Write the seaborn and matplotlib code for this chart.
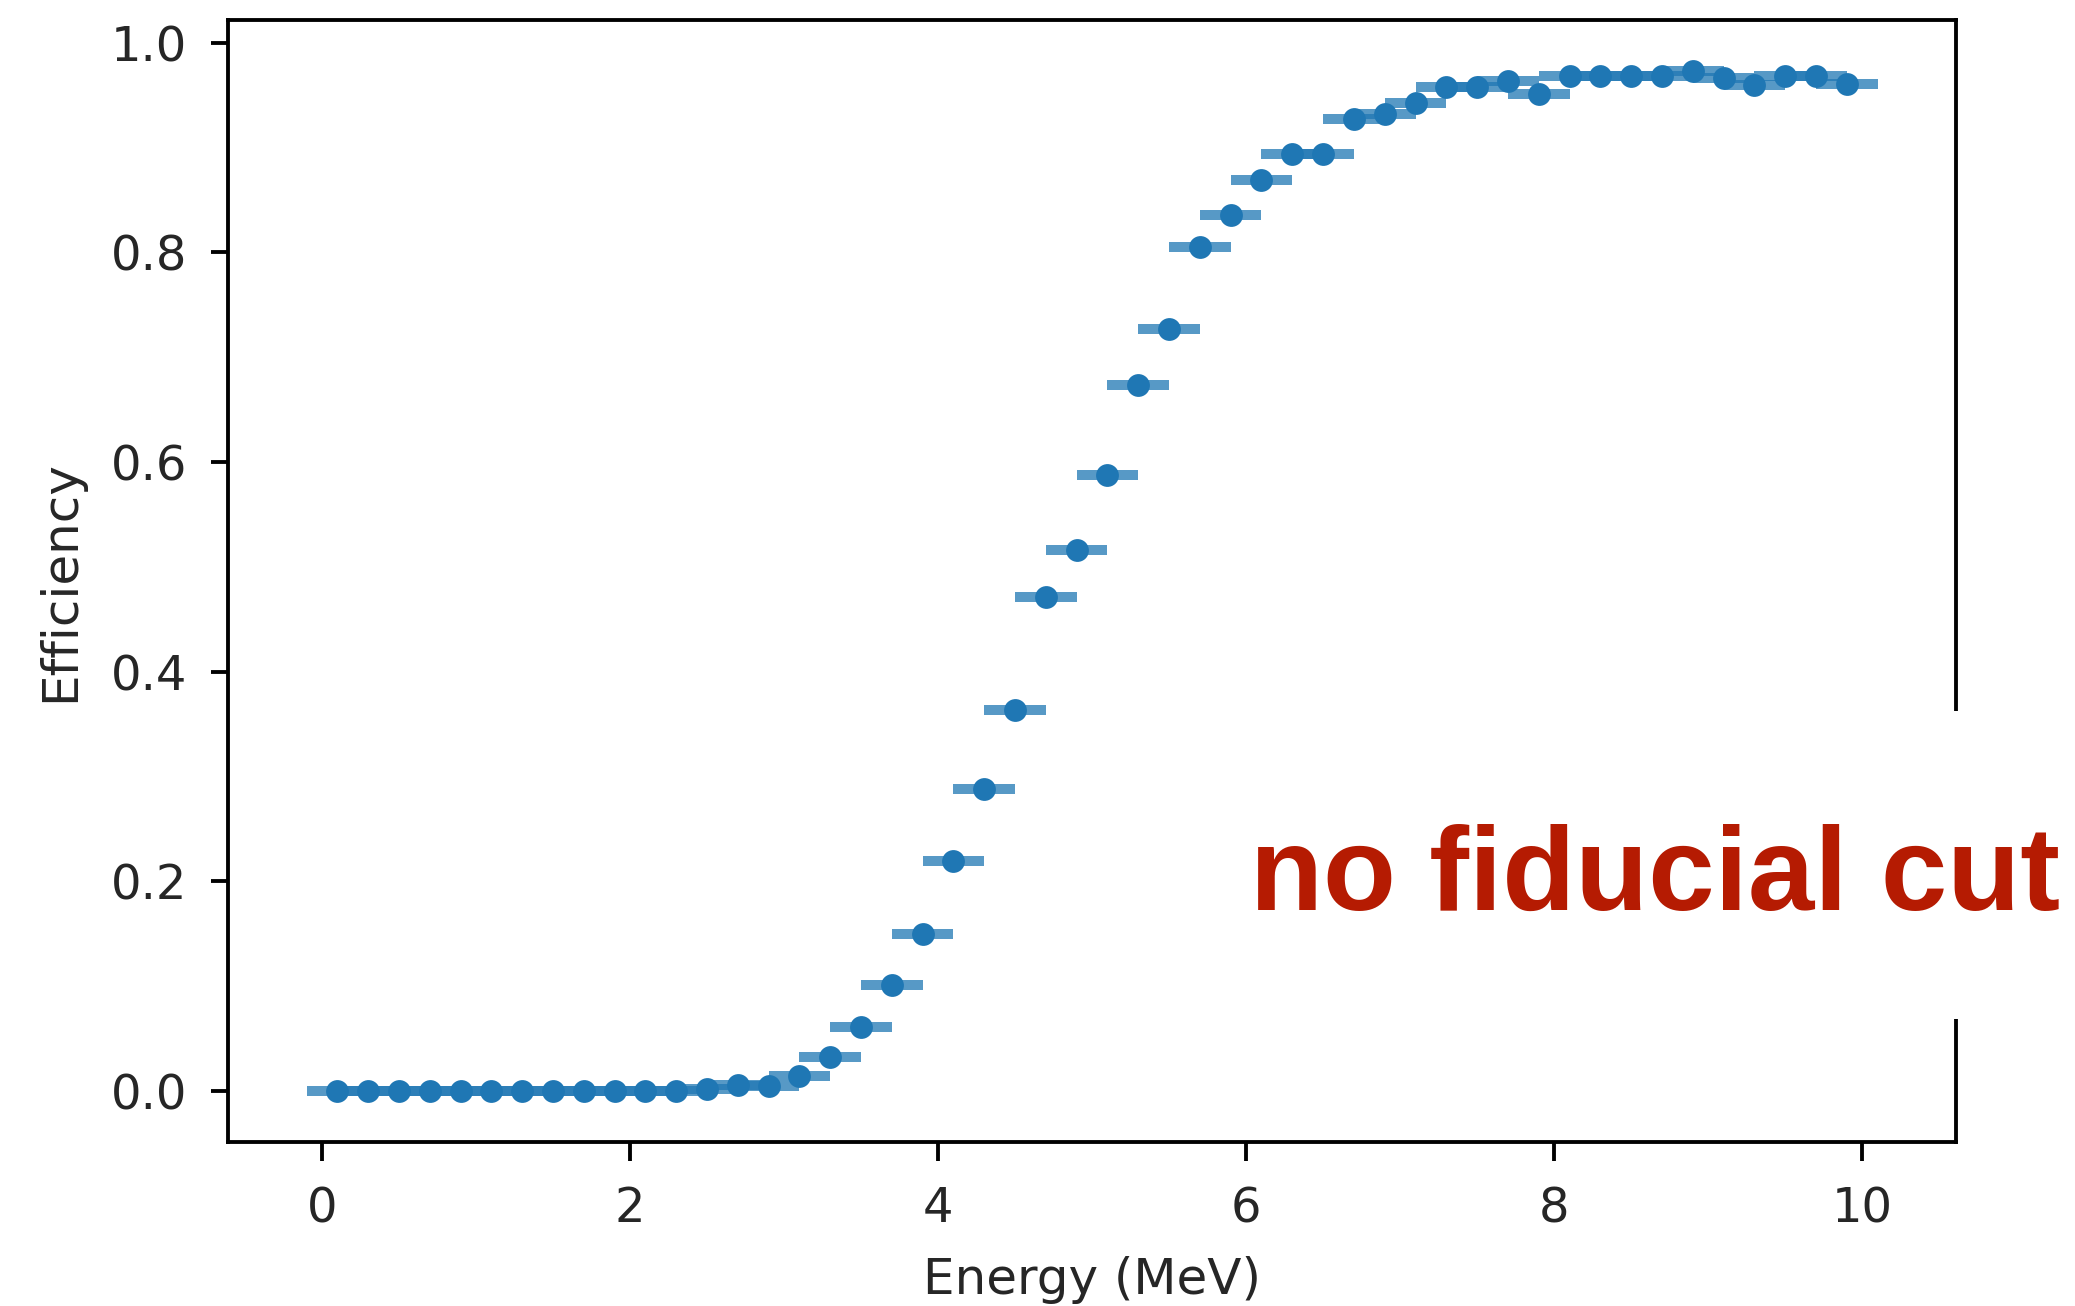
import numpy as np
import matplotlib
matplotlib.use("Agg")
import matplotlib.pyplot as plt
import seaborn as sns
import pandas as pd
from matplotlib.patches import Rectangle

# Bin centres (MeV) and measured efficiency per bin
energy = [0.1, 0.3, 0.5, 0.7, 0.9, 1.1, 1.3, 1.5, 1.7, 1.9,
          2.1, 2.3, 2.5, 2.7, 2.9, 3.1, 3.3, 3.5, 3.7, 3.9,
          4.1, 4.3, 4.5, 4.7, 4.9, 5.1, 5.3, 5.5, 5.7, 5.9,
          6.1, 6.3, 6.5, 6.7, 6.9, 7.1, 7.3, 7.5, 7.7, 7.9,
          8.1, 8.3, 8.5, 8.7, 8.9, 9.1, 9.3, 9.5, 9.7, 9.9]
efficiency = [0.0, 0.0, 0.0, 0.0, 0.0, 0.0, 0.0, 0.0, 0.0, 0.0,
              0.0, 0.0, 0.002, 0.006, 0.005, 0.014, 0.032, 0.061, 0.101, 0.150,
              0.219, 0.288, 0.363, 0.471, 0.516, 0.588, 0.673, 0.727, 0.805, 0.836,
              0.869, 0.894, 0.894, 0.927, 0.932, 0.942, 0.958, 0.958, 0.963, 0.951,
              0.968, 0.968, 0.968, 0.968, 0.973, 0.966, 0.960, 0.968, 0.968, 0.961]
bin_halfwidth = 0.2

x_ticks = [0, 2, 4, 6, 8, 10]
y_ticks = [0.0, 0.2, 0.4, 0.6, 0.8, 1.0]
x_label = "Energy (MeV)"
y_label = "Efficiency"
note = "no fiducial cut"

df = pd.DataFrame({"energy": energy, "efficiency": efficiency})

S = 3.46  # point scaling for the large canvas
sns.set_theme(style="ticks")
plt.rcParams["font.family"] = ["DejaVu Sans"]
plt.rcParams.update({
    "axes.linewidth": 0.8 * S,
    "axes.edgecolor": "black",
    "xtick.major.size": 4.0 * S,
    "ytick.major.size": 3.5 * S,
    "xtick.major.width": 0.8 * S,
    "ytick.major.width": 0.8 * S,
    "xtick.major.pad": 5.0 * S,
    "ytick.major.pad": 5.0 * S,
    "xtick.color": "black",
    "ytick.color": "black",
    "xtick.labelcolor": "#262626",
    "ytick.labelcolor": "#262626",
    "axes.labelcolor": "#262626",
})

fig = plt.figure(figsize=(20.75, 13.06), dpi=100)
ax = fig.add_axes([0.1099, 0.1256, 0.8328, 0.8591])

blue = "#1f77b4"
ax.errorbar(df["energy"], df["efficiency"], xerr=bin_halfwidth, fmt="none",
            ecolor=blue, elinewidth=7.2, alpha=0.75, zorder=2)
sns.scatterplot(data=df, x="energy", y="efficiency", ax=ax, color=blue,
                s=270, linewidth=0, zorder=3, legend=False)

ax.set_xticks(x_ticks)
ax.set_yticks(y_ticks)
ax.set_yticklabels([f"{v:.1f}" for v in y_ticks])
ax.tick_params(labelsize=10 * S)
ax.set_xlabel(x_label, fontsize=10.4 * S, labelpad=5.0 * S)
ax.set_ylabel(y_label, fontsize=10.4 * S, labelpad=5.5 * S)
for side in ["top", "right", "left", "bottom"]:
    ax.spines[side].set_visible(True)
ax.margins(x=0.05, y=0.05)

# white label panel over the right edge
fig.patches.append(Rectangle((1240 / 2075, 1 - 1019 / 1306), (2075 - 1240) / 2075,
                             (1019 - 711) / 1306, transform=fig.transFigure,
                             facecolor="white", edgecolor="none", zorder=10))
fig.text(1250 / 2075, 1 - 910 / 1306, note, ha="left", va="baseline",
         fontsize=86, fontweight="bold", color="#B51B02",
         family=["Liberation Sans", "DejaVu Sans"], zorder=11)

fig.savefig("out.png", dpi=100, facecolor="white")
